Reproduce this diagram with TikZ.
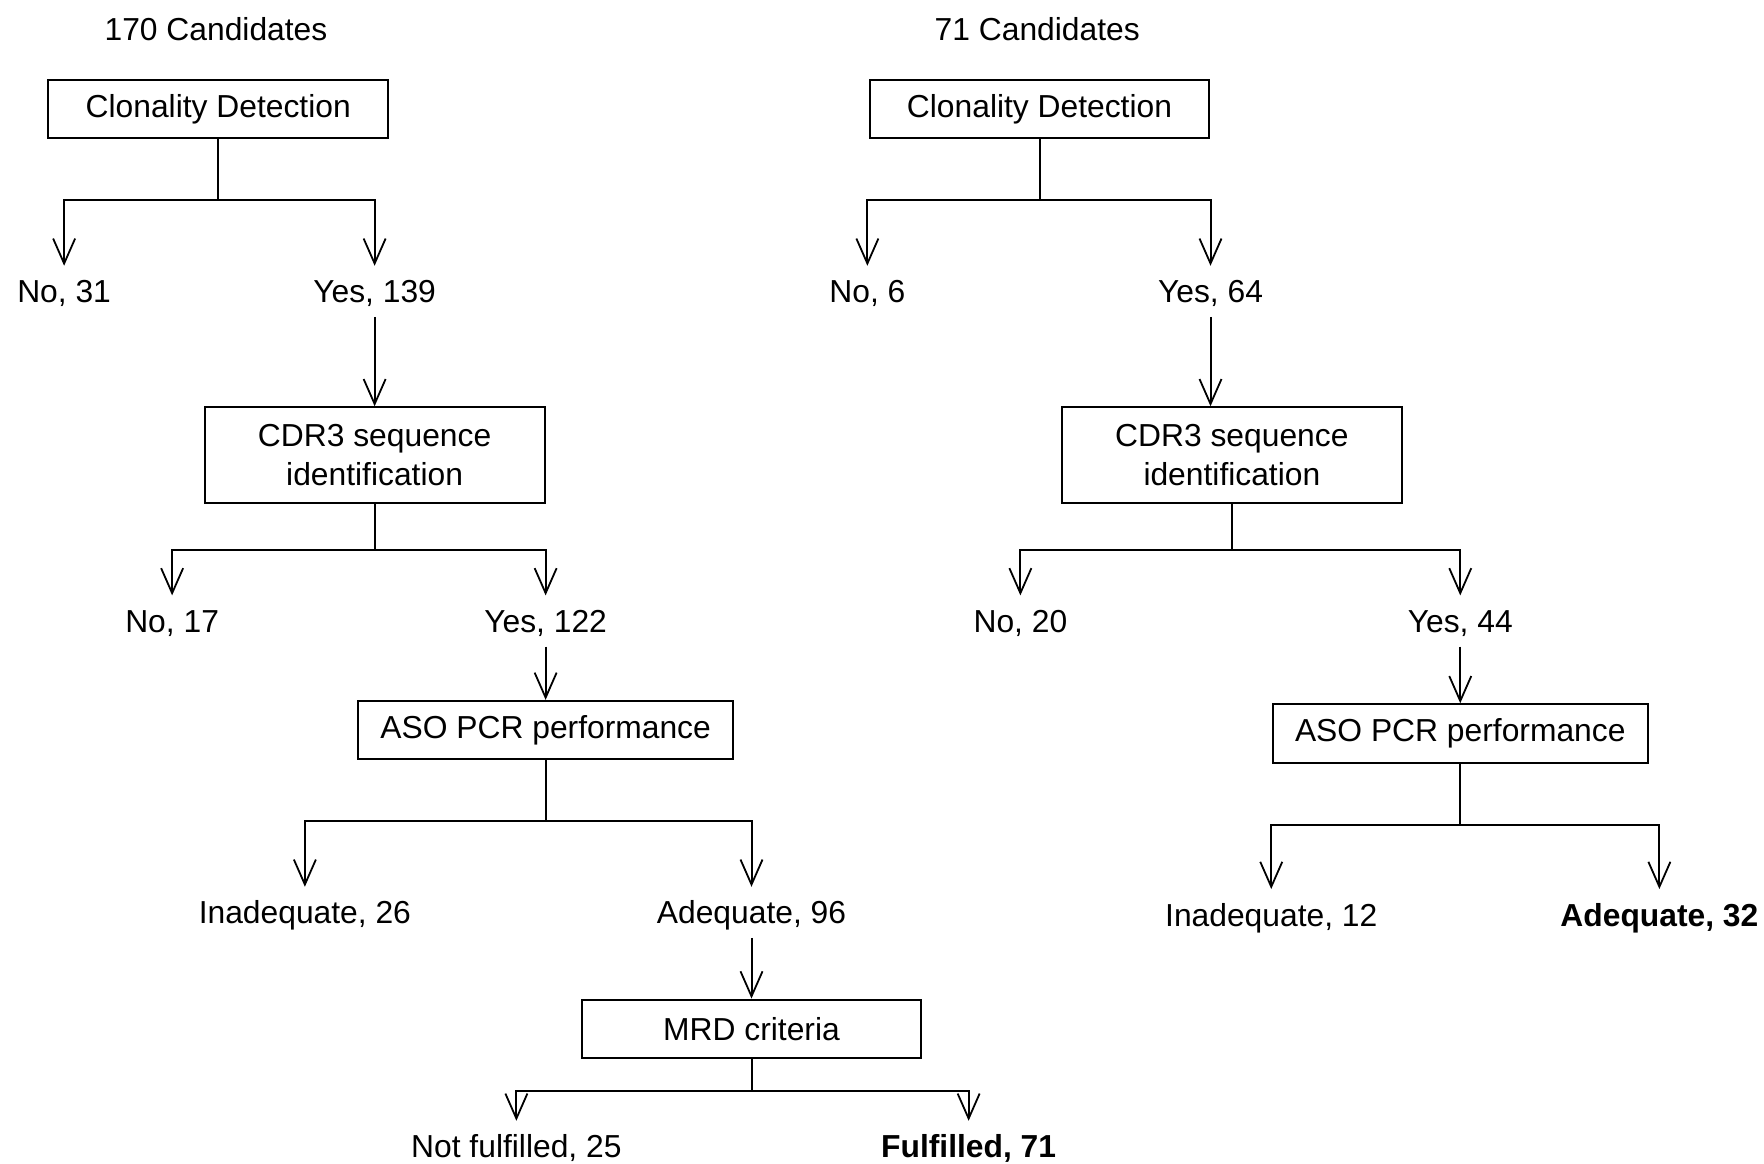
\documentclass[tikz,border=0pt]{standalone}
\usepackage{fontspec}
\setmainfont{Liberation Sans}
\usetikzlibrary{arrows.meta}
\begin{document}
\begin{tikzpicture}[x=0.5625pt,y=-0.5625pt,
  every node/.style={font=\fontsize{15.9}{19.7}\selectfont},
  boxA/.style={draw,line width=1pt,minimum width=169.9pt,minimum height=29.25pt,inner sep=0pt,align=center},
  boxB/.style={draw,line width=1pt,minimum width=169.9pt,minimum height=47.8pt,inner sep=0pt,align=center},
  boxC/.style={draw,line width=1pt,minimum width=187.3pt,minimum height=29.25pt,inner sep=0pt,align=center},
  lbl/.style={text height=11.4pt,text depth=0pt,inner xsep=2pt,inner ysep=6.9pt},
  lblb/.style={lbl,font=\fontsize{15.9}{19.7}\selectfont\bfseries},
  conn/.style={line width=1pt},
  arr/.style={line width=1pt,-{Straight Barb[length=12.5pt,width=11pt,line width=0.9pt]}}
]
\path[use as bounding box,fill=white] (0,0) rectangle (1568,1034);

% ---------------- Left tree ----------------
\node (cand1) at (192,26) {170 Candidates};
\node[boxA] (cd1) at (194,97) {Clonality Detection};
\node[lbl] (no1) at (57,259) {No, 31};
\node[lbl] (yes1) at (333,259) {Yes, 139};
\node[boxB] (cdr1) at (333,404.5) {CDR3 sequence\\identification};
\node[lbl] (no2) at (153,552) {No, 17};
\node[lbl] (yes2) at (485,552) {Yes, 122};
\node[boxC] (aso1) at (485,649) {ASO PCR performance};
\node[lbl] (inad1) at (271,811) {Inadequate, 26};
\node[lbl] (adeq1) at (668,811) {Adequate, 96};
\node[boxA] (mrd1) at (668,914.5) {MRD criteria};
\node[lbl] (notf) at (459,1019) {Not fulfilled, 25};
\node[lblb] (ful) at (861,1019) {Fulfilled, 71};

\draw[conn] (cd1.south) -- ++(0,54) coordinate (j1);
\draw[arr] (j1) -| (no1.north);
\draw[arr] (j1) -| (yes1.north);
\draw[arr] (yes1.south) -- (cdr1.north);
\draw[conn] (cdr1.south) -- ++(0,41) coordinate (j2);
\draw[arr] (j2) -| (no2.north);
\draw[arr] (j2) -| (yes2.north);
\draw[arr] (yes2.south) -- (aso1.north);
\draw[conn] (aso1.south) -- ++(0,54) coordinate (j3);
\draw[arr] (j3) -| (inad1.north);
\draw[arr] (j3) -| (adeq1.north);
\draw[arr] (adeq1.south) -- (mrd1.north);
\draw[conn] (mrd1.south) -- ++(0,28) coordinate (j4);
\draw[arr] (j4) -| (notf.north);
\draw[arr] (j4) -| (ful.north);

% ---------------- Right tree ----------------
\node (cand2) at (922,26) {71 Candidates};
\node[boxA] (cd2) at (924,97) {Clonality Detection};
\node[lbl] (no3) at (771,259) {No, 6};
\node[lbl] (yes3) at (1076,259) {Yes, 64};
\node[boxB] (cdr2) at (1095,404.5) {CDR3 sequence\\identification};
\node[lbl] (no4) at (907,552) {No, 20};
\node[lbl] (yes4) at (1298,552) {Yes, 44};
\node[boxC] (aso2) at (1298,652) {ASO PCR performance};
\node[lbl] (inad2) at (1130,813) {Inadequate, 12};
\node[lblb] (adeq2) at (1475,813) {Adequate, 32};

\draw[conn] (cd2.south) -- ++(0,54) coordinate (k1);
\draw[arr] (k1) -| (no3.north);
\draw[arr] (k1) -| (yes3.north);
\draw[arr] (yes3.south) -- (yes3.south |- cdr2.north);
\draw[conn] (cdr2.south) -- ++(0,41) coordinate (k2);
\draw[arr] (k2) -| (no4.north);
\draw[arr] (k2) -| (yes4.north);
\draw[arr] (yes4.south) -- (aso2.north);
\draw[conn] (aso2.south) -- ++(0,54) coordinate (k3);
\draw[arr] (k3) -| (inad2.north);
\draw[arr] (k3) -| (adeq2.north);
\end{tikzpicture}
\end{document}
